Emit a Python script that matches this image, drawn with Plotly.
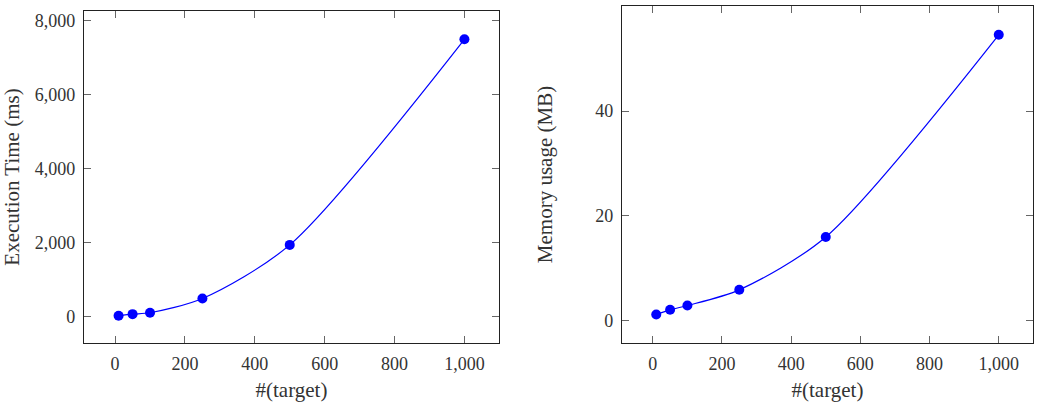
import plotly.graph_objects as go

targets = [10, 50, 100, 250, 500, 1000]
exec_time_ms = [18, 62, 100, 485, 1933, 7487]
memory_mb = [1.14, 2.04, 2.86, 5.86, 15.97, 54.6]

x_ticks = [0, 200, 400, 600, 800, 1000]
time_ticks = [0, 2000, 4000, 6000, 8000]
mem_ticks = [0, 20, 40]

W, H = 1041, 402
FONT = "Liberation Serif"
BLUE = "#0000ff"

def px_x(a, b):
    return [a / W, b / W]

def px_y(top, bottom):
    return [(H - bottom) / H, (H - top) / H]

fig = go.Figure()

for i, (vals, ax) in enumerate([(exec_time_ms, ""), (memory_mb, "2")]):
    fig.add_trace(go.Scatter(
        x=targets, y=vals, mode="lines+markers",
        line=dict(color=BLUE, width=1.2, shape="spline", smoothing=0.8),
        marker=dict(color=BLUE, size=10),
        xaxis="x" + ax, yaxis="y" + ax, showlegend=False,
    ))

axis_common = dict(
    showline=True, linecolor="#222", linewidth=1.3, mirror="ticks",
    ticks="inside", ticklen=7, tickcolor="#666", tickwidth=1,
    showgrid=False, zeroline=False,
    tickfont=dict(family=FONT, size=18, color="#333"),
    title_font=dict(family=FONT, size=21, color="#333"),
    tickformat=",d",
)

fig.update_layout(
    width=W, height=H,
    margin=dict(l=0, r=0, t=0, b=0),
    paper_bgcolor="white", plot_bgcolor="white",
    xaxis=dict(axis_common, domain=px_x(84, 499), range=[-89, 1099],
               tickvals=x_ticks, anchor="y", ticklabelstandoff=4,
               title=dict(text="#(target)", standoff=10)),
    yaxis=dict(axis_common, domain=px_y(11, 343), range=[-717, 8252],
               tickvals=time_ticks, anchor="x", ticklabelstandoff=4,
               title=dict(text="Execution Time (ms)", standoff=12)),
    xaxis2=dict(axis_common, domain=px_x(622, 1033), range=[-89, 1099],
                tickvals=x_ticks, anchor="y2", ticklabelstandoff=4,
                title=dict(text="#(target)", standoff=10)),
    yaxis2=dict(axis_common, domain=px_y(6, 343), range=[-4.3, 60.1],
                tickvals=mem_ticks, anchor="x2", ticklabelstandoff=4,
                title=dict(text="Memory usage (MB)", standoff=36)),
)

fig.write_html("out.html")
